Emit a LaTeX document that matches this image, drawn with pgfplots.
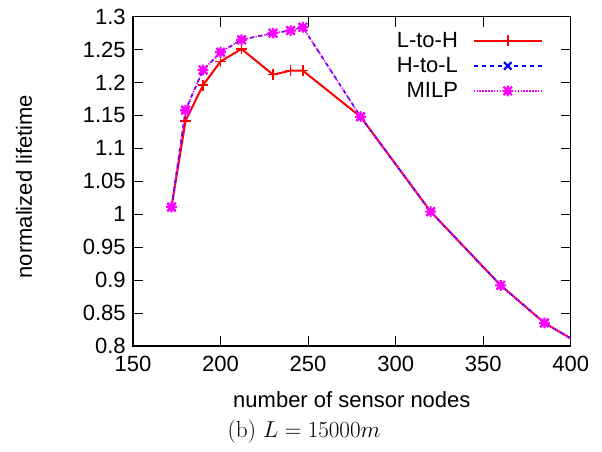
\documentclass[border=0pt]{standalone}
\usepackage{pgfplots}
\pgfplotsset{compat=1.18}
\usepackage{fontspec}
\newfontfamily\gpsans{Liberation Sans}
\definecolor{gpred}{RGB}{255,0,0}
\definecolor{gpblue}{RGB}{0,0,255}
\definecolor{gpmagenta}{RGB}{255,0,255}

% gnuplot point type 3: plus and cross on top of each other
\pgfdeclareplotmark{gpstar}{%
  \pgfpathmoveto{\pgfqpoint{-\pgfplotmarksize}{0pt}}%
  \pgfpathlineto{\pgfqpoint{\pgfplotmarksize}{0pt}}%
  \pgfpathmoveto{\pgfqpoint{0pt}{-\pgfplotmarksize}}%
  \pgfpathlineto{\pgfqpoint{0pt}{\pgfplotmarksize}}%
  \pgfpathmoveto{\pgfqpoint{-0.8\pgfplotmarksize}{-0.8\pgfplotmarksize}}%
  \pgfpathlineto{\pgfqpoint{0.8\pgfplotmarksize}{0.8\pgfplotmarksize}}%
  \pgfpathmoveto{\pgfqpoint{-0.8\pgfplotmarksize}{0.8\pgfplotmarksize}}%
  \pgfpathlineto{\pgfqpoint{0.8\pgfplotmarksize}{-0.8\pgfplotmarksize}}%
  \pgfusepathqstroke}

\begin{document}
\begin{tikzpicture}
\useasboundingbox (-99.75pt,-78.75pt) rectangle (351.75pt,259.5pt);
\begin{axis}[
    at={(0,0)}, anchor=south west,
    scale only axis,
    width=328.3pt, height=247pt,
    xmin=150, xmax=400,
    ymin=0.8, ymax=1.3,
    xtick={150,200,250,300,350,400},
    ytick={0.8,0.85,0.9,0.95,1,1.05,1.1,1.15,1.2,1.25,1.3},
    tick align=inside,
    major tick length=7.5pt,
    axis line style={line width=1pt},
    every tick/.style={black, line width=0.8pt},
    font=\gpsans\fontsize{16.5}{19.8}\selectfont,
    /pgf/number format/assume math mode=true,
    xticklabel style={yshift=-4pt},
    yticklabel style={xshift=-2pt},
    xlabel={number of sensor nodes},
    ylabel={normalized lifetime},
    every axis x label/.style={at={(axis description cs:0.5,-0.188)}, anchor=base},
    every axis y label/.style={at={(axis description cs:-0.249,0.484)}, rotate=90, anchor=center},
    clip mode=individual,
    legend plot pos=right,
    legend cell align=right,
    legend style={draw=none, fill=none, at={(axis description cs:0.937,0.962)},
        anchor=north east, row sep=2pt, column sep=9pt, inner sep=0pt,
        font=\gpsans\fontsize{16.5}{19.8}\selectfont},
    legend image code/.code={
        \draw[mark repeat=2, mark phase=2] plot coordinates {(0cm,0cm) (0.9cm,0cm) (1.8cm,0cm)};},
]
\addplot[color=gpred, line width=1.5pt, mark=+, mark size=4pt, mark options={solid, line width=1.2pt}] coordinates {
    (172,1.011) (180,1.142) (190,1.196) (200,1.232) (212,1.251)
    (230,1.212) (240,1.218) (247,1.218) (280,1.148) (320,1.004)
    (360,0.892) (385,0.835) (440,0.749)
};
\addlegendentry{L-to-H}

\addplot[color=gpblue, line width=1.2pt, dash pattern=on 3pt off 3pt, mark=x, mark size=4pt, mark options={solid, line width=1.6pt}] coordinates {
    (172,1.011) (180,1.158) (190,1.219) (200,1.246) (212,1.265)
    (230,1.275) (240,1.279) (247,1.284) (280,1.148) (320,1.004)
    (360,0.892) (385,0.835) (440,0.749)
};
\addlegendentry{H-to-L}

\addplot[color=gpmagenta, line width=1.2pt, dash pattern=on 1pt off 1.2pt, mark=gpstar, mark size=4pt, mark options={solid, line width=1.6pt}] coordinates {
    (172,1.011) (180,1.158) (190,1.219) (200,1.246) (212,1.265)
    (230,1.275) (240,1.279) (247,1.284) (280,1.148) (320,1.004)
    (360,0.892) (385,0.835) (440,0.749)
};
\addlegendentry{MILP}
\end{axis}
\node[anchor=base, font=\fontsize{17.5}{21}\selectfont] at (128.25pt,-68.25pt) {(b) $L = 15000m$};
\end{tikzpicture}
\end{document}
